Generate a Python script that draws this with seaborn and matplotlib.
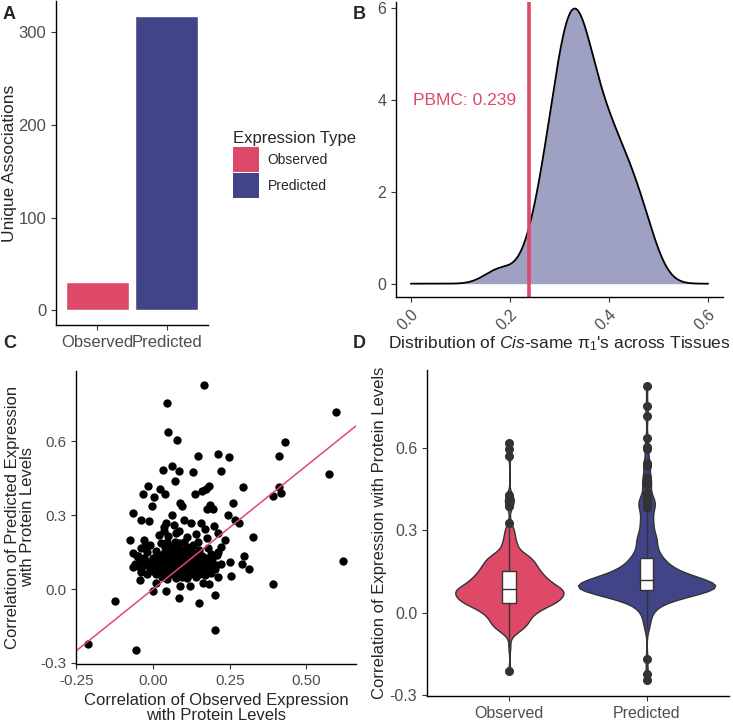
import numpy as np
import pandas as pd
import matplotlib.pyplot as plt
import seaborn as sns
from matplotlib.patches import Patch

# panel A
expr_types = ['Observed', 'Predicted']
unique_assoc = [31, 318]

# panel B, cis-same pi1 per tissue
pi1_tissues = [0.18, 0.25, 0.26, 0.27, 0.28, 0.29, 0.29, 0.30, 0.30, 0.31, 0.31, 0.31,
               0.32, 0.32, 0.32, 0.33, 0.33, 0.33, 0.33, 0.34, 0.34, 0.34, 0.35, 0.35,
               0.36, 0.36, 0.37, 0.37, 0.38, 0.38, 0.39, 0.40, 0.40, 0.41, 0.42, 0.42,
               0.43, 0.44, 0.45, 0.46, 0.47, 0.48]
pbmc_pi1 = 0.239

# panel C/D (observed corr, predicted corr)
outer_pts = [(0.167, 0.827), (0.046, 0.753), (0.049, 0.636), (0.078, 0.603), (0.596, 0.718),
             (0.430, 0.597), (0.411, 0.539), (0.572, 0.468), (0.412, 0.413), (0.416, 0.390),
             (0.391, 0.376), (0.620, 0.114), (0.391, 0.020), (-0.124, -0.047), (-0.213, -0.222),
             (-0.055, -0.247), (0.201, -0.168), (0.148, -0.058), (0.203, -0.024), (0.083, -0.035),
             (0.043, -0.007), (-0.002, -0.007), (0.147, 0.538), (0.210, 0.548), (0.247, 0.534),
             (0.032, 0.483), (0.063, 0.497), (0.083, 0.477), (0.130, 0.473), (0.222, 0.480),
             (-0.017, 0.419), (0.022, 0.406), (0.070, 0.438), (-0.033, 0.387), (0.004, 0.375),
             (0.040, 0.387), (0.135, 0.387), (0.159, 0.398), (0.183, 0.419), (0.171, 0.406),
             (0.292, 0.413), (0.089, 0.347), (0.093, 0.335), (-0.004, 0.336), (0.176, 0.323),
             (0.187, 0.339), (0.196, 0.323), (0.260, 0.347), (-0.067, 0.308), (0.061, 0.301),
             (0.243, 0.302), (-0.039, 0.280), (-0.014, 0.276), (0.099, 0.280), (0.124, 0.269),
             (0.157, 0.269), (0.170, 0.242), (0.199, 0.255), (0.267, 0.280), (0.279, 0.269),
             (0.326, 0.211), (-0.076, 0.198), (-0.030, 0.199), (-0.026, 0.175), (-0.067, 0.148),
             (-0.054, 0.134), (-0.065, 0.091), (-0.043, 0.035), (0.034, 0.250), (0.037, 0.237),
             (0.041, 0.269), (0.067, 0.261), (0.073, 0.226), (0.212, 0.226), (0.222, 0.169),
             (0.235, 0.199), (0.250, 0.108), (0.254, 0.054), (0.290, 0.101), (0.297, 0.133),
             (0.311, 0.082), (0.183, 0.020), (0.193, 0.121), (0.203, 0.083), (0.207, 0.137),
             (0.211, 0.047), (0.163, 0.024), (0.088, 0.012), (0.121, 0.013), (0.008, 0.024)]
cluster_low = [(-0.04, 0.07), (-0.02, 0.062), (0.00, 0.075), (0.01, 0.06), (0.02, 0.072), (0.03, 0.05),
               (0.04, 0.068), (0.05, 0.078), (0.06, 0.06), (0.07, 0.07), (0.075, 0.045), (0.08, 0.075),
               (0.085, 0.062), (0.09, 0.072), (0.095, 0.05), (0.10, 0.078), (0.105, 0.065), (0.11, 0.045),
               (0.115, 0.072), (0.12, 0.06), (0.125, 0.078), (0.13, 0.068), (0.14, 0.05), (0.145, 0.075),
               (0.15, 0.062), (0.16, 0.072), (0.17, 0.055), (0.18, 0.075), (0.19, 0.065), (0.005, 0.08),
               (0.025, 0.065), (0.045, 0.04), (0.055, 0.07), (0.065, 0.078), (0.035, 0.075), (0.015, 0.078),
               (-0.01, 0.08), (0.09, 0.08), (0.06, 0.08), (0.11, 0.08), (0.135, 0.08), (0.075, 0.068),
               (0.035, 0.062), (0.155, 0.08)]
cluster_mid = [(-0.06, 0.10), (-0.05, 0.094), (-0.045, 0.106), (-0.035, 0.09), (-0.025, 0.10), (-0.015, 0.11),
               (-0.005, 0.094), (0.005, 0.103), (0.01, 0.09), (0.02, 0.106), (0.025, 0.097), (0.03, 0.11),
               (0.035, 0.094), (0.04, 0.103), (0.045, 0.09), (0.05, 0.106), (0.055, 0.097), (0.06, 0.11),
               (0.065, 0.094), (0.07, 0.103), (0.075, 0.09), (0.08, 0.106), (0.085, 0.097), (0.09, 0.10),
               (0.095, 0.11), (0.10, 0.094), (0.105, 0.11), (0.11, 0.097), (0.115, 0.103), (0.12, 0.09),
               (0.125, 0.106), (0.13, 0.094), (0.135, 0.103), (0.14, 0.097), (0.15, 0.11), (0.16, 0.094),
               (0.17, 0.103), (0.18, 0.09), (0.19, 0.106), (0.205, 0.097), (0.22, 0.10), (0.0, 0.097),
               (0.015, 0.10), (0.045, 0.10), (0.065, 0.10), (0.075, 0.112), (0.085, 0.092), (0.095, 0.103),
               (0.055, 0.09), (0.105, 0.10), (0.035, 0.10), (0.08, 0.10), (0.07, 0.095), (0.09, 0.108),
               (0.06, 0.103), (0.115, 0.092)]
cluster_high = [(-0.05, 0.135), (-0.04, 0.165), (-0.03, 0.124), (-0.02, 0.15), (-0.01, 0.18), (0.00, 0.127),
                (0.01, 0.155), (0.02, 0.135), (0.025, 0.185), (0.03, 0.124), (0.035, 0.145), (0.04, 0.17),
                (0.045, 0.13), (0.05, 0.155), (0.055, 0.124), (0.06, 0.14), (0.065, 0.175), (0.07, 0.127),
                (0.075, 0.15), (0.08, 0.135), (0.085, 0.185), (0.09, 0.124), (0.095, 0.16), (0.10, 0.14),
                (0.105, 0.127), (0.11, 0.17), (0.115, 0.135), (0.12, 0.15), (0.125, 0.124), (0.13, 0.18),
                (0.135, 0.14), (0.14, 0.127), (0.15, 0.16), (0.16, 0.135), (0.17, 0.124), (0.18, 0.165),
                (0.19, 0.14), (0.21, 0.15), (0.015, 0.121), (0.045, 0.19), (0.06, 0.121), (0.075, 0.17),
                (0.09, 0.145), (0.10, 0.19), (0.115, 0.121), (0.125, 0.165), (0.145, 0.19), (0.05, 0.127),
                (0.08, 0.124), (0.035, 0.13), (0.155, 0.121), (0.07, 0.19)]
cluster_top = [(0.02, 0.22), (0.05, 0.215), (0.085, 0.235), (0.11, 0.21), (0.14, 0.225), (0.175, 0.205)]

red = '#DE4968'
navy = '#414487'
pal = {'Observed': red, 'Predicted': navy}
tick_col = '#4D4D4D'

pts = outer_pts + cluster_low + cluster_mid + cluster_high + cluster_top
obs_corr = [p[0] for p in pts]
pred_corr = [p[1] for p in pts]
long_df = pd.DataFrame({'type': ['Observed'] * len(pts) + ['Predicted'] * len(pts),
                        'corr': obs_corr + pred_corr})

sns.set_style('ticks')
plt.rcParams['font.family'] = ['Liberation Sans', 'DejaVu Sans']
plt.rcParams['mathtext.fontset'] = 'custom'
plt.rcParams['mathtext.rm'] = 'Liberation Sans'
plt.rcParams['mathtext.it'] = 'Liberation Sans:italic'
plt.rcParams['mathtext.default'] = 'regular'

fig = plt.figure(figsize=(7.33, 7.24), dpi=100)
axA = fig.add_axes([0.0764, 0.5511, 0.2074, 0.4475])
axB = fig.add_axes([0.5402, 0.5898, 0.4461, 0.4075])
axC = fig.add_axes([0.1037, 0.0829, 0.3820, 0.4047])
axD = fig.add_axes([0.5825, 0.0387, 0.4120, 0.4496])


def style(ax, fs):
    sns.despine(ax=ax)
    for s in ['left', 'bottom']:
        ax.spines[s].set_linewidth(1.0)
        ax.spines[s].set_color('black')
    ax.tick_params(colors='#333333', labelcolor=tick_col, labelsize=fs, length=3.5, width=0.8)


# A
sns.barplot(x=expr_types, y=unique_assoc, hue=expr_types, palette=pal, width=0.9,
            legend=False, ax=axA, saturation=1)
axA.set_xlim(-0.6, 1.6)
axA.set_ylim(-15.9, 333.9)
axA.set_yticks([0, 100, 200, 300])
style(axA, 12)
axA.set_ylabel('Unique Associations', fontsize=12.5, labelpad=1)
handles = [Patch(facecolor=pal[t], edgecolor='none', label=t) for t in expr_types]
fig.legend(handles=handles, title='Expression Type', loc='upper left',
           bbox_to_anchor=(0.3085, 0.828), frameon=False, fontsize=10, title_fontsize=12,
           handlelength=1.9, handleheight=2.4, labelspacing=0.05, borderpad=0,
           handletextpad=0.6, alignment='left')

# B
sns.kdeplot(x=pi1_tissues, fill=True, color=navy, alpha=0.5, linewidth=0,
            cut=10, clip=(0, 0.6), gridsize=400, ax=axB)
sns.kdeplot(x=pi1_tissues, fill=False, color='black', linewidth=1.3,
            cut=10, clip=(0, 0.6), gridsize=400, ax=axB)
axB.axvline(pbmc_pi1, color=red, linewidth=2.6)
axB.text(0.108, 4.0, 'PBMC: ' + str(pbmc_pi1), color=red, fontsize=12.5, ha='center', va='center')
axB.set_xlim(-0.03, 0.63)
axB.set_ylim(-0.29, 6.14)
axB.set_xticks([0, 0.2, 0.4, 0.6])
axB.set_xticklabels(['0.0', '0.2', '0.4', '0.6'], rotation=45, ha='right', rotation_mode='anchor')
axB.set_yticks([0, 2, 4, 6])
axB.set_ylabel('')
axB.set_xlabel(r"Distribution of $\mathit{Cis}$-same π$_{1}$'s across Tissues", fontsize=12.5, labelpad=2)
axB.xaxis.set_label_coords(0.5, -0.125)
style(axB, 11.5)

# C
sns.scatterplot(x=obs_corr, y=pred_corr, color='black', s=36, linewidth=0, ax=axC)
axC.axline((0, 0), slope=1, color=red, linewidth=1.1)
axC.set_xlim(-0.2515, 0.6615)
axC.set_ylim(-0.304, 0.884)
axC.set_xticks([-0.25, 0, 0.25, 0.5])
axC.set_xticklabels(['-0.25', '0.00', '0.25', '0.50'])
axC.set_yticks([-0.3, 0, 0.3, 0.6])
axC.set_yticklabels(['-0.3', '0.0', '0.3', '0.6'])
axC.set_xlabel('Correlation of Observed Expression\nwith Protein Levels', fontsize=12, linespacing=0.95)
axC.set_ylabel('Correlation of Predicted Expression\nwith Protein Levels', fontsize=12, linespacing=0.95)
style(axC, 11)

# D
sns.violinplot(data=long_df, x='type', y='corr', hue='type', palette=pal, inner=None,
               width=1.0, cut=0, bw_adjust=0.5, density_norm='area', common_norm=True,
               linewidth=1.0, linecolor='#333333', saturation=1, legend=False, ax=axD)
sns.boxplot(data=long_df, x='type', y='corr', color='white', width=0.1, linewidth=1.0,
            linecolor='#333333', showcaps=False, saturation=1,
            flierprops=dict(marker='o', markerfacecolor='#333333', markeredgecolor='#333333',
                            markersize=5.5), ax=axD)
axD.set_xlim(-0.6, 1.6)
axD.set_ylim(-0.304, 0.884)
axD.set_yticks([-0.3, 0, 0.3, 0.6])
axD.set_yticklabels(['-0.3', '0.0', '0.3', '0.6'])
axD.set_xlabel('')
axD.set_ylabel('Correlation of Expression with Protein Levels', fontsize=12, labelpad=2)
style(axD, 11.5)

for lab, x, y in [('A', 0.004, 0.992), ('B', 0.481, 0.992), ('C', 0.004, 0.537), ('D', 0.481, 0.537)]:
    fig.text(x, y, lab, fontsize=13, fontweight='bold', ha='left', va='top')

fig.savefig('out.png', dpi=100)
